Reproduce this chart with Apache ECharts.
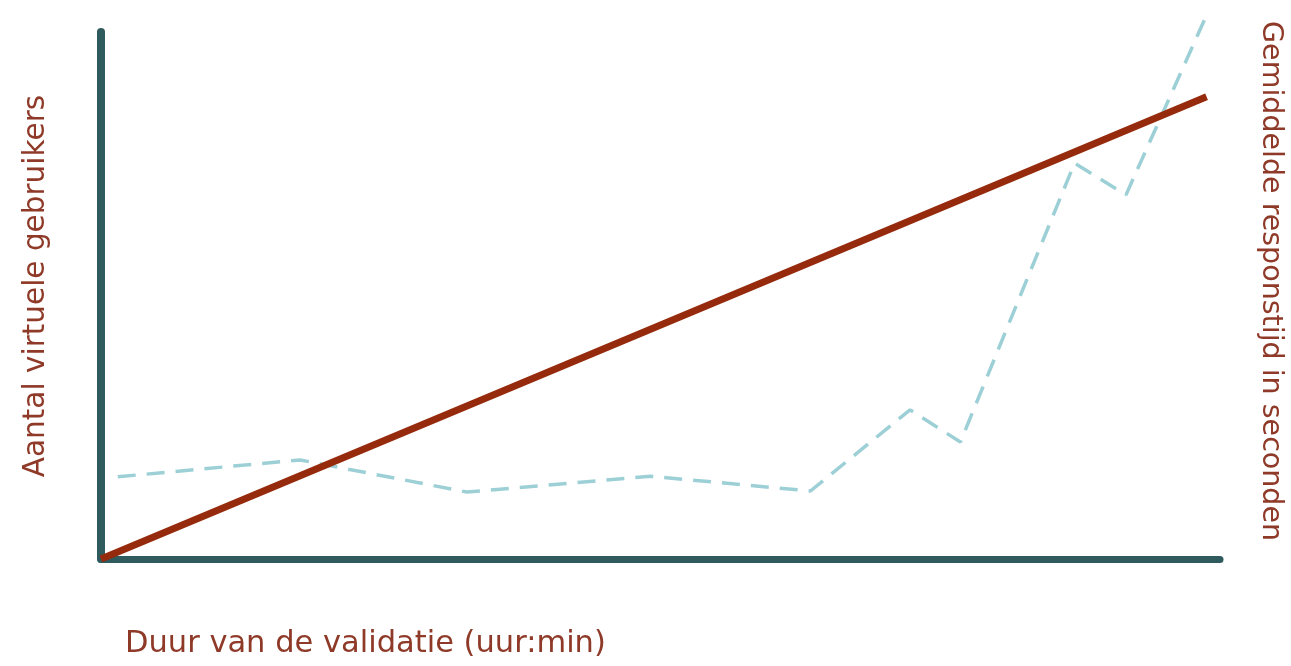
<!DOCTYPE html>
<html>
<head>
<meta charset="utf-8">
<script src="https://cdn.jsdelivr.net/npm/echarts@6/dist/echarts.min.js"></script>
<style>html,body{margin:0;padding:0;background:#fff}#c{width:1291px;height:666px}</style>
</head>
<body>
<div id="c"></div>
<script>
// Data (x in relative time units 0-100, no tick labels in the source)
var usersX = [0, 98.8];
var usersY = [0, 87.7];
var respX = [1.5, 17.8, 32.7, 49.1, 63.4, 72.3, 76.8, 87.0, 91.6, 98.8];
var respY = [15.6, 18.8, 12.7, 15.7, 12.9, 28.3, 22.2, 75.1, 69.1, 103.2];
var xTitle = 'Duur van de validatie (uur:min)';
var yLeftTitle = 'Aantal virtuele gebruikers';
var yRightTitle = 'Gemiddelde responstijd in seconden';

var usersData = usersX.map(function (x, i) { return [x, usersY[i]]; });
var respData = respX.map(function (x, i) { return [x, respY[i]]; });

var textColor = '#8f3a28';
var font = 'DejaVu Sans';

var chart = echarts.init(document.getElementById('c'));
chart.setOption({
  animation: false,
  grid: { left: 101, right: 71, top: 32, bottom: 107 },
  xAxis: {
    type: 'value', min: 0, max: 100,
    axisLine: { show: true, onZero: false, lineStyle: { color: '#2f5b5e', width: 7 } },
    axisTick: { show: false }, axisLabel: { show: false }, splitLine: { show: false }
  },
  yAxis: [{
    type: 'value', min: 0, max: 100, position: 'left',
    axisLine: { show: true, lineStyle: { color: '#2f5b5e', width: 8 } },
    axisTick: { show: false }, axisLabel: { show: false }, splitLine: { show: false }
  }, {
    type: 'value', min: 0, max: 100, position: 'right',
    axisLine: { show: false }, axisTick: { show: false }, axisLabel: { show: false }, splitLine: { show: false }
  }],
  series: [{
    type: 'line', yAxisIndex: 1, data: respData, symbol: 'none', clip: false, z: 2,
    lineStyle: { color: '#9dd0d6', width: 3.5, type: [18, 11] }
  }, {
    type: 'line', yAxisIndex: 0, data: usersData, symbol: 'none', clip: false, z: 3,
    lineStyle: { color: '#962a0c', width: 7, cap: 'butt' }
  }],
  graphic: [{
    type: 'text', x: 125, y: 644,
    style: { text: xTitle, fill: textColor, font: '30.5px "' + font + '"', align: 'left', verticalAlign: 'middle' }
  }, {
    type: 'text', x: 36, y: 286, rotation: Math.PI / 2,
    style: { text: yLeftTitle, fill: textColor, font: '29.5px "' + font + '"', align: 'center', verticalAlign: 'middle' }
  }, {
    type: 'text', x: 1270, y: 281, rotation: -Math.PI / 2,
    style: { text: yRightTitle, fill: textColor, font: '28.5px "' + font + '"', align: 'center', verticalAlign: 'middle' }
  }]
});
</script>
</body>
</html>
